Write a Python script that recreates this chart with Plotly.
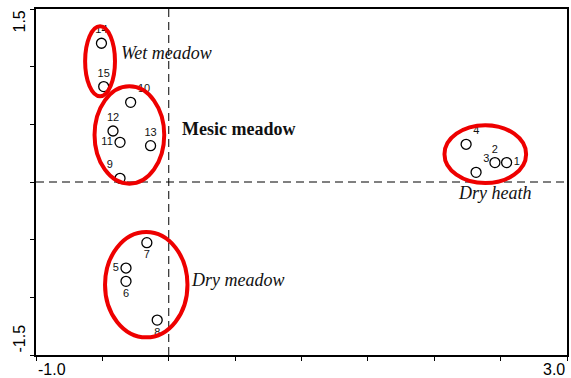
import plotly.graph_objects as go

# Sample scores (axis 1, axis 2)
site_ids = ["1", "2", "3", "4", "5", "6", "7", "8", "9", "10", "11", "12", "13", "14", "15"]
axis1 = [2.545, 2.457, 2.315, 2.240, -0.322, -0.322, -0.165, -0.087, -0.367, -0.287, -0.367, -0.420, -0.137, -0.507, -0.490]
axis2 = [0.168, 0.168, 0.084, 0.327, -0.746, -0.861, -0.526, -1.197, 0.032, 0.691, 0.344, 0.442, 0.315, 1.203, 0.827]
label_pos = ["middle right", "top center", "top right", "top right", "middle left", "bottom center",
             "bottom center", "bottom center", "top left", "top right", "middle left", "top center",
             "top center", "top center", "top center"]

# Group ellipses: name, x-min, x-max, y-min, y-max (data units)
group_names = ["Wet meadow", "Mesic meadow", "Dry meadow", "Dry heath"]
ell_x0 = [-0.630, -0.559, -0.480, 2.077]
ell_x1 = [-0.405, -0.034, 0.141, 2.692]
ell_y0 = [0.743, -0.015, -1.347, -0.009]
ell_y1 = [1.350, 0.830, -0.434, 0.492]

# Group label text positions (left anchor)
group_label_x = [-0.377, 0.088, 0.150, 2.162]
group_label_y = [1.119, 0.457, -0.850, -0.098]
group_label_style = ["italic", "bold", "italic", "italic"]

x_range = [-1.0, 3.0]
y_range = [-1.5, 1.5]
x_tick_labels = ["-1.0", "3.0"]
y_tick_labels = ["1.5", "-1.5"]

fig = go.Figure()

fig.add_trace(go.Scatter(
    x=axis1, y=axis2, mode="markers+text",
    text=site_ids, textposition=label_pos,
    textfont=dict(family="Liberation Sans, Arial", size=11, color="#111"),
    marker=dict(symbol="circle-open", size=10, color="black", line=dict(width=1.3)),
    cliponaxis=False, showlegend=False, hoverinfo="skip",
))

shapes = []
# dashed zero lines
shapes.append(dict(type="line", xref="x", yref="paper", x0=0, x1=0, y0=0, y1=1,
                   line=dict(color="black", width=1, dash="8px,5px"), layer="below"))
shapes.append(dict(type="line", xref="paper", yref="y", x0=0, x1=1, y0=0, y1=0,
                   line=dict(color="black", width=1, dash="8px,5px"), layer="below"))
for i in range(len(group_names)):
    shapes.append(dict(type="circle", xref="x", yref="y",
                       x0=ell_x0[i], x1=ell_x1[i], y0=ell_y0[i], y1=ell_y1[i],
                       line=dict(color="#ee0000", width=4)))

annotations = []
for i, name in enumerate(group_names):
    style = group_label_style[i]
    txt = f"<b>{name}</b>" if style == "bold" else f"<i>{name}</i>"
    annotations.append(dict(x=group_label_x[i], y=group_label_y[i], xref="x", yref="y",
                            text=txt, showarrow=False, xanchor="left", yanchor="middle",
                            font=dict(family="Liberation Serif, Times New Roman", size=18, color="#111")))

tick_font = dict(family="Liberation Sans, Arial", size=16, color="black")
annotations.append(dict(x=x_range[0], y=0, xref="x", yref="paper", text=x_tick_labels[0],
                        showarrow=False, xanchor="left", yanchor="top", yshift=-4, font=tick_font))
annotations.append(dict(x=x_range[1], y=0, xref="x", yref="paper", text=x_tick_labels[1],
                        showarrow=False, xanchor="right", yanchor="top", yshift=-4, font=tick_font))
annotations.append(dict(x=0, y=y_range[1], xref="paper", yref="y", text=y_tick_labels[0],
                        showarrow=False, xanchor="right", yanchor="top", xshift=-7, textangle=-90,
                        font=tick_font))
annotations.append(dict(x=0, y=y_range[0], xref="paper", yref="y", text=y_tick_labels[1],
                        showarrow=False, xanchor="right", yanchor="bottom", xshift=-7, textangle=-90,
                        font=tick_font))

axis_common = dict(showgrid=False, zeroline=False, showline=True, linecolor="black", linewidth=1.5,
                   mirror=True, ticks="outside", ticklen=4, tickwidth=1.3, tickcolor="black",
                   showticklabels=False, dtick=0.5)

fig.update_layout(
    width=571, height=378,
    margin=dict(l=36, r=2, t=9, b=23),
    paper_bgcolor="white", plot_bgcolor="white",
    xaxis=dict(range=x_range, tick0=-1.0, **axis_common),
    yaxis=dict(range=y_range, tick0=-1.5, **axis_common),
    shapes=shapes, annotations=annotations,
)

fig.write_html("out.html", config={"displayModeBar": False},
               post_script="document.body.style.margin='0';document.body.style.padding='0';")
